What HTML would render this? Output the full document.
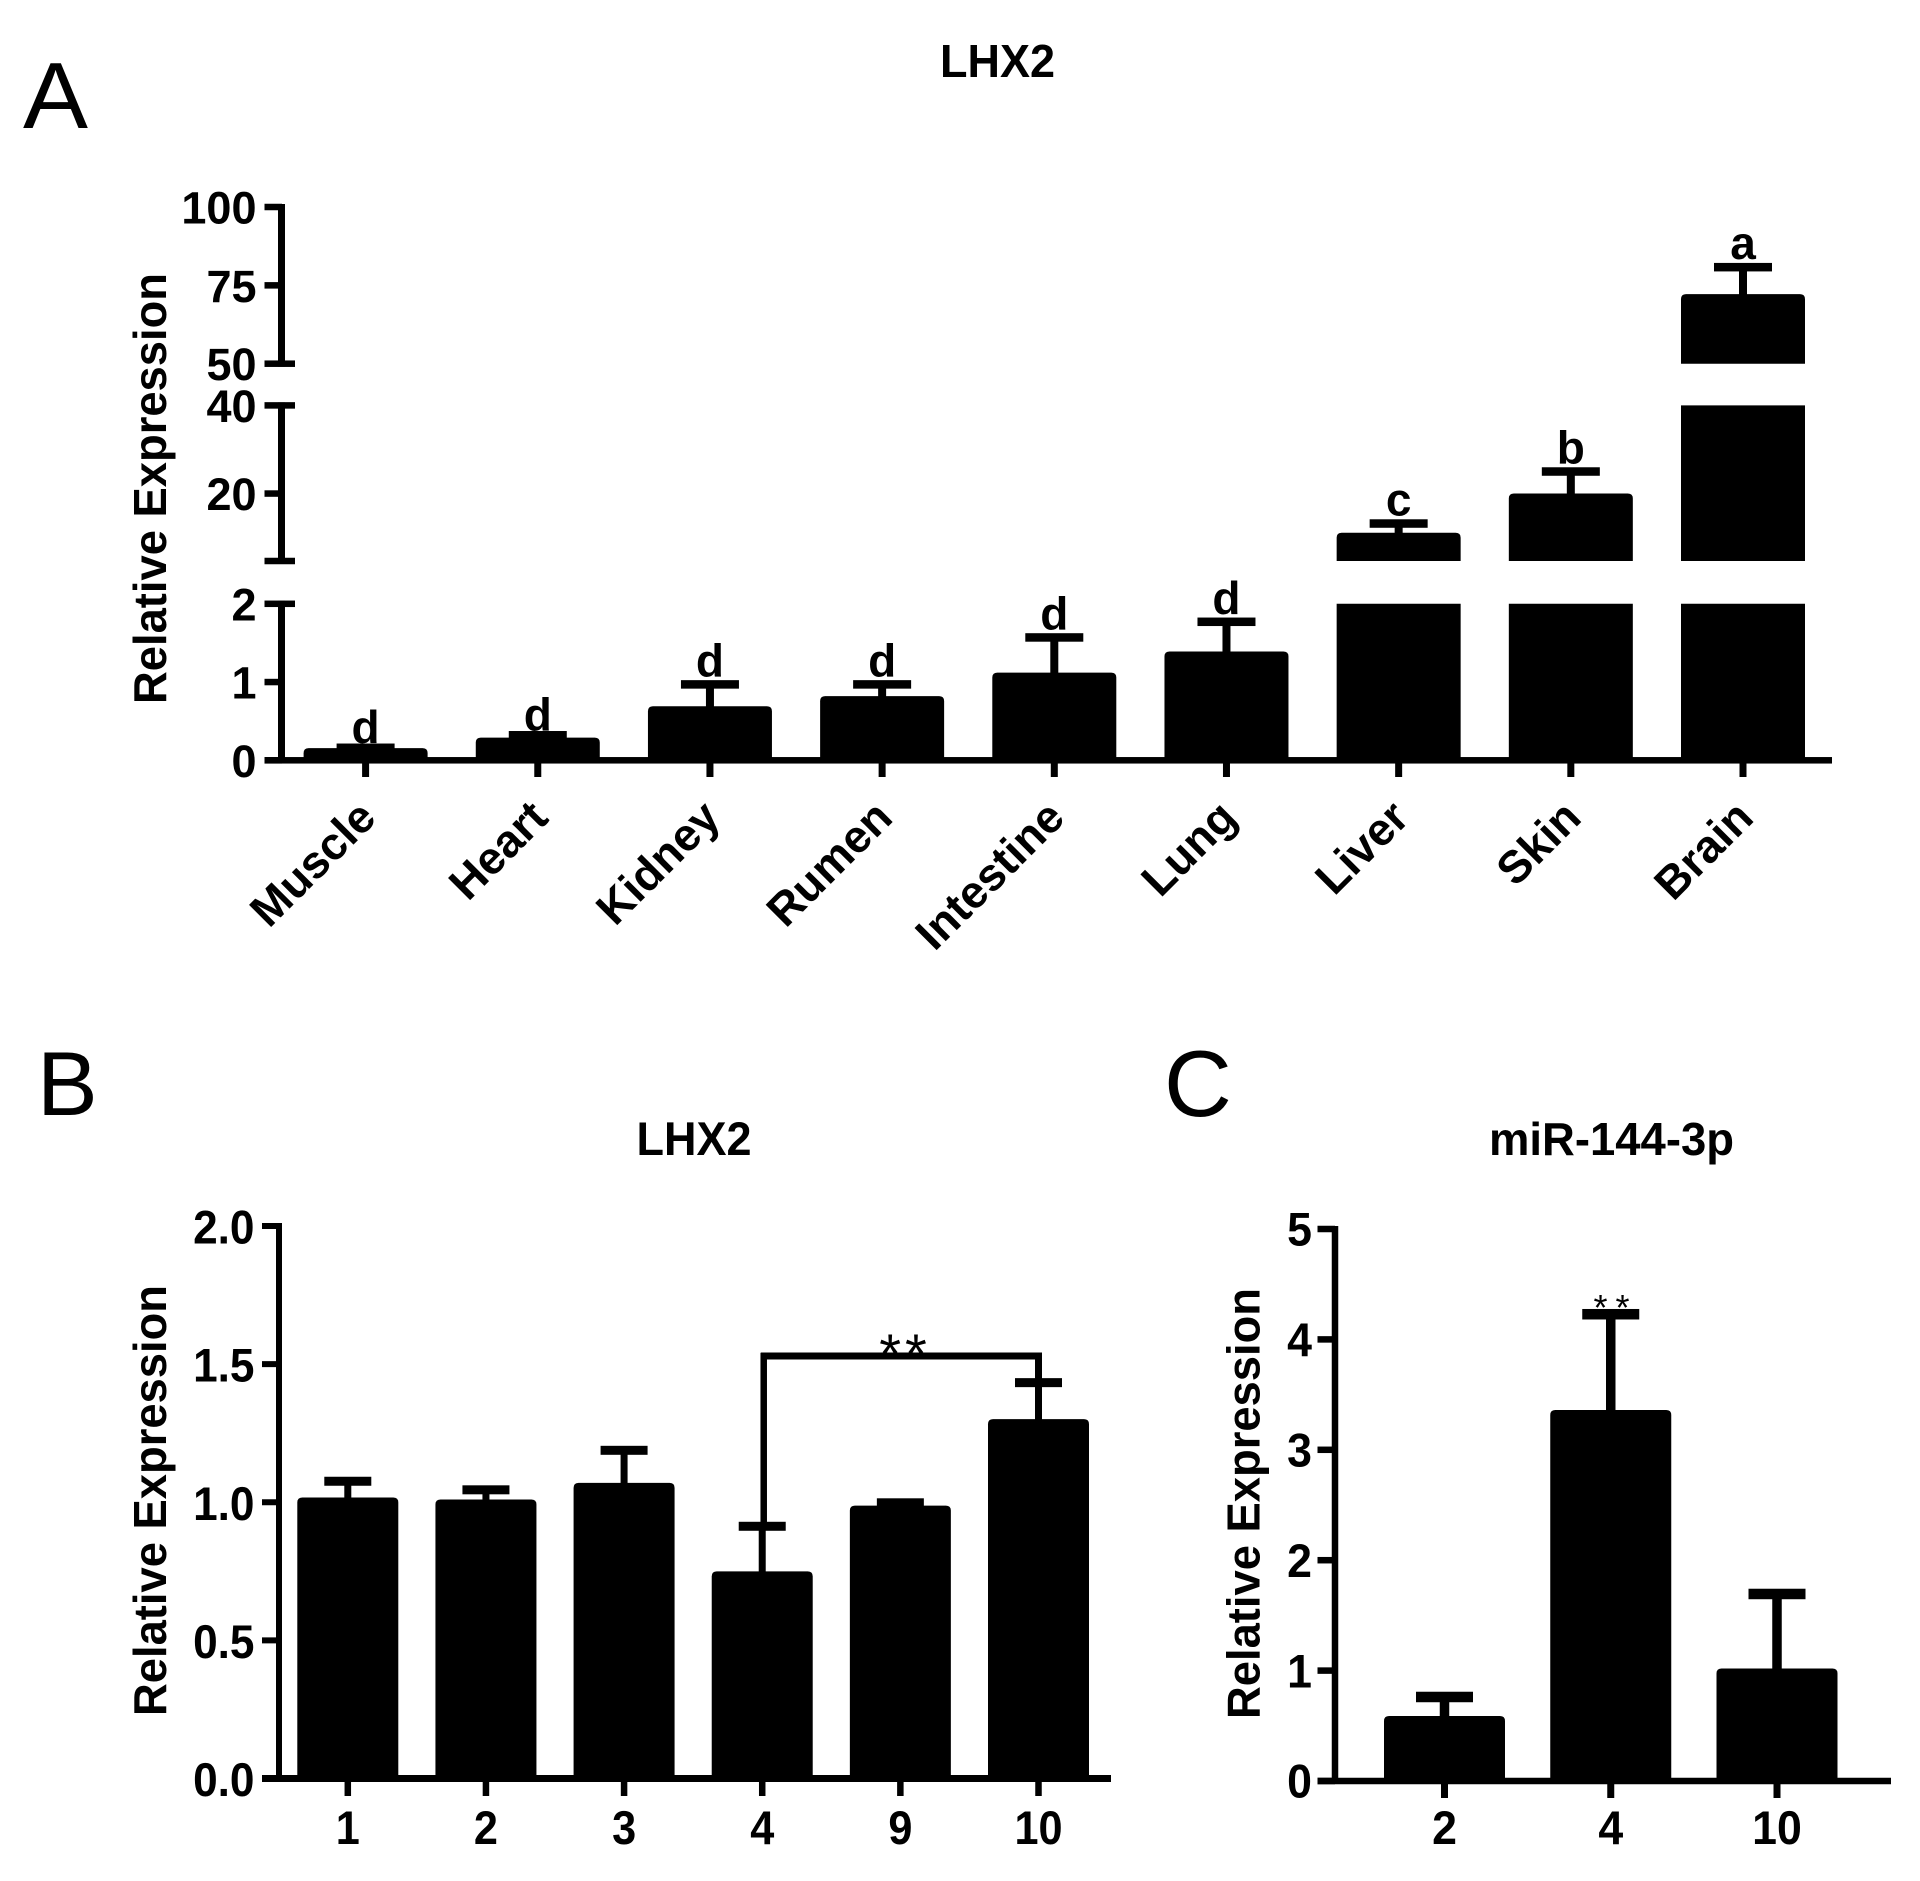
<!DOCTYPE html>
<html lang="en">
<head>
<meta charset="utf-8">
<title>LHX2 and miR-144-3p relative expression</title>
<style>
  html, body { margin: 0; padding: 0; background: #fff; }
  svg { display: block; }
  text { font-family: "Liberation Sans", Arial, sans-serif; fill: #000; }
  .bold { font-weight: bold; }
</style>
</head>
<body>
<svg id="figure" xmlns="http://www.w3.org/2000/svg" width="1920" height="1881" viewBox="0 0 1920 1881">
  <rect x="0" y="0" width="1920" height="1881" fill="#fff"/>
  <text x="23" y="128" font-size="94" textLength="65" lengthAdjust="spacingAndGlyphs">A</text>
  <text x="37" y="1115" font-size="91">B</text>
  <text x="1164" y="1116" font-size="94">C</text>
  <text class="bold" x="940" y="77" font-size="46" textLength="115" lengthAdjust="spacingAndGlyphs">LHX2</text>
  <text class="bold" x="636.5" y="1155" font-size="47" textLength="115" lengthAdjust="spacingAndGlyphs">LHX2</text>
  <text class="bold" x="1489" y="1155" font-size="46" textLength="245" lengthAdjust="spacingAndGlyphs">miR-144-3p</text>
  <text class="bold" transform="translate(166 704) rotate(-90)" font-size="46" textLength="431" lengthAdjust="spacingAndGlyphs">Relative Expression</text>
  <text class="bold" transform="translate(166 1716) rotate(-90)" font-size="46" textLength="431" lengthAdjust="spacingAndGlyphs">Relative Expression</text>
  <text class="bold" transform="translate(1259.5 1719) rotate(-90)" font-size="46" textLength="431" lengthAdjust="spacingAndGlyphs">Relative Expression</text>
</svg>
<script>
// Panel A data
const aCategories = ['Muscle', 'Heart', 'Kidney', 'Rumen', 'Intestine', 'Lung', 'Liver', 'Skin', 'Brain'];
const aMeans = [0.155, 0.29, 0.69, 0.82, 1.12, 1.39, 11.1, 20, 72.2];
const aErrors = [0.005, 0.03, 0.28, 0.15, 0.45, 0.38, 2.1, 5, 8.6];
const aLetters = ['d', 'd', 'd', 'd', 'd', 'd', 'c', 'b', 'a'];
const aTickValues = [0, 1, 2, 4.7, 20, 40, 50, 75, 100];
const aTickLabels = ['0', '1', '2', '', '20', '40', '50', '75', '100'];
const aSegmentLows = [0, 4.7, 50];
const aSegmentHighs = [2, 40, 100];

// Panel B data
const bCategories = ['1', '2', '3', '4', '9', '10'];
const bMeans = [1.017, 1.01, 1.07, 0.75, 0.988, 1.301];
const bErrors = [0.059, 0.035, 0.118, 0.163, 0.01, 0.132];
const bTickValues = [0, 0.5, 1, 1.5, 2];
const bTickLabels = ['0.0', '0.5', '1.0', '1.5', '2.0'];

// Panel C data
const cCategories = ['2', '4', '10'];
const cMeans = [0.589, 3.36, 1.019];
const cErrors = [0.172, 0.868, 0.675];
const cTickValues = [0, 1, 2, 3, 4, 5];
const cTickLabels = ['0', '1', '2', '3', '4', '5'];

const svg = document.getElementById('figure');
const NS = 'http://www.w3.org/2000/svg';

function make(tag, attrs, parent) {
  const node = document.createElementNS(NS, tag);
  for (const key in attrs) node.setAttribute(key, attrs[key]);
  parent.appendChild(node);
  return node;
}

function rangeMap(v, d0, d1, r0, r1) {
  return r0 + (v - d0) / (d1 - d0) * (r1 - r0);
}

// Axis functions
function yA(v) {
  if (v <= 2) return rangeMap(v, 0, 2, 760.3, 603.8);
  if (v <= 40) return rangeMap(v, 4.7, 40, 561, 405.4);
  return rangeMap(v, 50, 100, 363.7, 207);
}
function xA(i) { return rangeMap(i, 0, 8, 365.6, 1743); }
function yB(v) { return rangeMap(v, 0, 2, 1778.5, 1226); }
function xB(i) { return rangeMap(i, 0, 5, 347.8, 1038.5); }
function yC(v) { return rangeMap(v, 0, 5, 1781, 1229); }
function xC(i) { return rangeMap(i, 0, 2, 1444.5, 1777); }

function barPath(x, w, top, bottom, rounded) {
  const r = rounded ? 5 : 0;
  return 'M' + (x - w / 2) + ' ' + bottom +
    'V' + (top + r) + 'Q' + (x - w / 2) + ' ' + top + ' ' + (x - w / 2 + r) + ' ' + top +
    'H' + (x + w / 2 - r) + 'Q' + (x + w / 2) + ' ' + top + ' ' + (x + w / 2) + ' ' + (top + r) +
    'V' + bottom + 'Z';
}

function hLine(parent, x1, x2, y, t) {
  return make('rect', { x: x1, y: y - t / 2, width: x2 - x1, height: t, fill: '#000' }, parent);
}
function vLine(parent, x, y1, y2, t) {
  return make('rect', { x: x - t / 2, y: y1, width: t, height: y2 - y1, fill: '#000' }, parent);
}

function drawError(group, name, x, yTop, yBase, capW, capT, stemW) {
  const stem = vLine(group, x, yTop, yBase + 2, stemW);
  
  
  const cap = hLine(group, x - capW / 2, x + capW / 2, yTop, capT);
  
  
}

function drawXTick(group, name, x, y0, y1, t) {
  const tick = vLine(group, x, y0, y1, t);
  
  
}

function drawYLabel(group, text, right, y, size, scaleX) {
  const label = make('text', { 'font-size': size, 'font-weight': 'bold', 'text-anchor': 'end', transform: 'translate(' + right + ' ' + y + ') scale(' + scaleX + ' 1)' }, group);
  label.textContent = text;
  
  
}

function drawXLabel(group, text, x, y, size, scaleX) {
  const label = make('text', { 'font-size': size, 'font-weight': 'bold', 'text-anchor': 'middle', transform: 'translate(' + x + ' ' + y + ') scale(' + scaleX + ' 1)' }, group);
  label.textContent = text;
  
  
}

// ---------- Panel A ----------
const gA = make('g', {}, svg);



aCategories.forEach(function (cat, i) {
  const x = xA(i);
  aSegmentLows.forEach(function (low, s) {
    const high = aSegmentHighs[s];
    if (aMeans[i] <= low) return;
    const top = Math.min(aMeans[i], high);
    const bar = make('path', { d: barPath(x, 124, yA(top), yA(low), aMeans[i] <= high), fill: '#000' }, gA);
    
    
  });
  drawError(gA, cat.toLowerCase(), x, yA(aMeans[i] + aErrors[i]), yA(aMeans[i]), 58, 8.5, 8);
  const lift = aMeans[i] < 0.5 ? 5 : 8;
  const letter = make('text', { x: x, y: yA(aMeans[i] + aErrors[i]) - lift, 'font-size': 46, 'font-weight': 'bold', 'text-anchor': 'middle' }, gA);
  letter.textContent = aLetters[i];
  
  
  drawXTick(gA, cat.toLowerCase(), x, 760, 777, 7);
  const lx = x + 12.5;
  const ly = 820;
  const catLabel = make('text', { x: lx, y: ly, 'font-size': 45.5, 'font-weight': 'bold', 'text-anchor': 'end', transform: 'rotate(-45 ' + lx + ' ' + ly + ')' }, gA);
  catLabel.textContent = cat;
  
  
});

aSegmentLows.forEach(function (low, s) {
  const seg = vLine(gA, 281.5, yA(aSegmentHighs[s]) - 3, yA(low) + 3, 7);
  
  
});

const aCapped = [2, 4.7, 40, 50];
aTickValues.forEach(function (v, i) {
  const right = aCapped.indexOf(v) >= 0 ? 295 : 282;
  const tick = hLine(gA, 264.5, right, yA(v), 6.5);
  
  
  if (aTickLabels[i]) drawYLabel(gA, aTickLabels[i], 256.5, yA(v) + 16.5, 45, 1);
});

const aAxis = hLine(gA, 264.5, 1832, 760.3, 6.5);



// ---------- Panel B ----------
const gB = make('g', {}, svg);



bCategories.forEach(function (cat, i) {
  const x = xB(i);
  const bar = make('path', { d: barPath(x, 101, yB(bMeans[i]), yB(0), true), fill: '#000' }, gB);
  
  
  drawError(gB, 'hour-' + cat, x, yB(bMeans[i] + bErrors[i]), yB(bMeans[i]), 47, 9, 7);
  drawXTick(gB, 'hour-' + cat, x, 1778, 1796, 6.5);
  drawXLabel(gB, cat, x, 1844, 47, 0.92);
});

const bAxisY = vLine(gB, 279, 1223, 1782, 6);



bTickValues.forEach(function (v, i) {
  const tick = hLine(gB, 262, 279, yB(v), 6);
  
  
  drawYLabel(gB, bTickLabels[i], 254.5, yB(v) + 17.5, 47, 0.94);
});

const bAxisX = hLine(gB, 262, 1111, 1778.5, 7);



const bracketY = 1356;
const bracketLeft = vLine(gB, xB(3) + 1.5, bracketY - 3, yB(bMeans[3] + bErrors[3]), 6.5);


const bracketTop = hLine(gB, xB(3) - 1.5, xB(5) + 3.5, bracketY, 7);


const bracketRight = vLine(gB, xB(5), bracketY - 3, yB(bMeans[5] + bErrors[5]), 7);


const bStars = make('text', { x: 905, y: 1373, 'font-size': 56, 'letter-spacing': 4, 'text-anchor': 'middle' }, gB);
bStars.textContent = '**';



// ---------- Panel C ----------
const gC = make('g', {}, svg);



cCategories.forEach(function (cat, i) {
  const x = xC(i);
  const bar = make('path', { d: barPath(x, 121, yC(cMeans[i]), yC(0), true), fill: '#000' }, gC);
  
  
  drawError(gC, 'mir-hour-' + cat, x, yC(cMeans[i] + cErrors[i]), yC(cMeans[i]), 57, 10.5, 9.5);
  drawXTick(gC, 'mir-hour-' + cat, x, 1781, 1798, 7);
  drawXLabel(gC, cat, x, 1844, 47, 0.95);
});

const cAxisY = vLine(gC, 1335, 1226, 1784, 6.5);



cTickValues.forEach(function (v, i) {
  const tick = hLine(gC, 1317.5, 1335, yC(v), 6.5);
  
  
  drawYLabel(gC, cTickLabels[i], 1312, yC(v) + 16.7, 47, 0.95);
});

const cAxisX = hLine(gC, 1317.5, 1891, 1781, 6.5);



const cStars = make('text', { x: 1615.5, y: 1320, 'font-size': 36, 'letter-spacing': 8, 'text-anchor': 'middle' }, gC);
cStars.textContent = '**';


</script>
</body>
</html>
